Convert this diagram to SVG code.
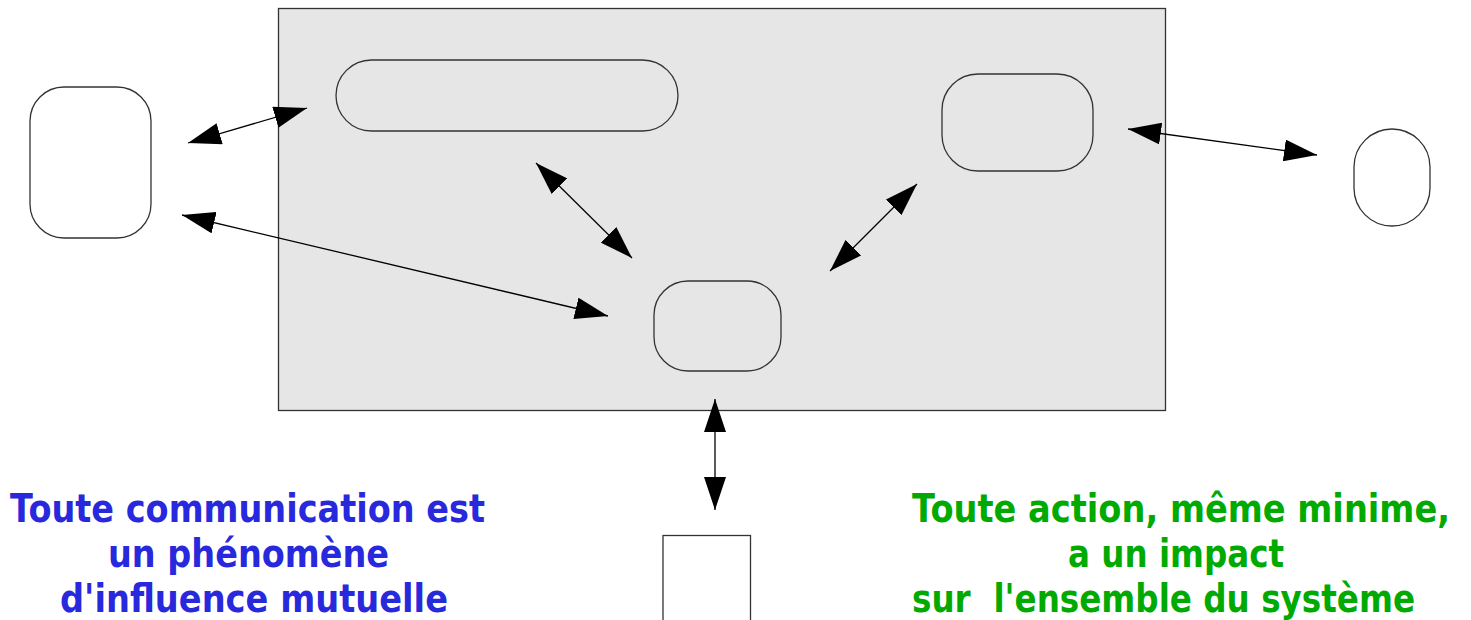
<svg xmlns="http://www.w3.org/2000/svg" width="1471" height="620" viewBox="0 0 1471 620">
<style>
.node{fill:#ffffff;stroke:#333333;stroke-width:1.3}
.inner{fill:#e6e6e6;stroke:#333333;stroke-width:1.3}
.conn{stroke:#000000;stroke-width:1.3;fill:none;marker-start:url(#ah);marker-end:url(#ah)}
.t{font-family:"DejaVu Sans","Liberation Sans",sans-serif;font-weight:bold;font-size:33.5px}
.blue{fill:#2828dc}
.green{fill:#00aa00}
</style>
<defs>
<marker id="ah" markerUnits="userSpaceOnUse" viewBox="0 0 33 22" refX="33" refY="11" markerWidth="33" markerHeight="22" orient="auto-start-reverse">
<path d="M0,0 L33,11 L0,22 Z" fill="#000000"/>
</marker>
</defs>
<g id="system">
<rect x="278.5" y="8.5" width="887" height="402" fill="#e6e6e6" stroke="#333333" stroke-width="1.3"/>
</g>
<g id="node-left"><rect class="node" x="30" y="87" width="121" height="151" rx="34" ry="34"/></g>
<g id="node-top"><rect class="inner" x="336" y="60" width="342" height="71" rx="35.5" ry="35.5"/></g>
<g id="node-topright"><rect class="inner" x="942" y="74" width="151" height="97" rx="36" ry="36"/></g>
<g id="node-center"><rect class="inner" x="654" y="281" width="127" height="90" rx="34" ry="34"/></g>
<g id="node-right"><rect class="node" x="1354" y="129" width="76" height="97" rx="38" ry="38"/></g>
<g id="node-bottom"><rect class="node" x="663" y="535.5" width="87.5" height="100"/></g>
<g id="connectors">
<line class="conn" x1="188" y1="143" x2="307" y2="108"/>
<line class="conn" x1="182" y1="215" x2="608" y2="316"/>
<line class="conn" x1="536" y1="163" x2="632" y2="258"/>
<line class="conn" x1="917" y1="184" x2="830" y2="271"/>
<line class="conn" x1="1128" y1="129" x2="1317" y2="155"/>
<line class="conn" x1="715" y1="399" x2="715" y2="510"/>
</g>
<g id="label-left" class="t blue" transform="scale(1,1.19)">
<text x="10" y="438.7" textLength="475" lengthAdjust="spacingAndGlyphs">Toute communication est</text>
<text x="108" y="476.5" textLength="281" lengthAdjust="spacingAndGlyphs">un phénomène</text>
<text x="60" y="514.3" textLength="388" lengthAdjust="spacingAndGlyphs">d'influence mutuelle</text>
</g>
<g id="label-right" class="t green" transform="scale(1,1.19)">
<text x="912" y="438.7" textLength="538" lengthAdjust="spacingAndGlyphs">Toute action, même minime,</text>
<text x="1068" y="476.5" textLength="216" lengthAdjust="spacingAndGlyphs">a un impact</text>
<text x="912" y="514.3" textLength="503" lengthAdjust="spacingAndGlyphs" xml:space="preserve">sur  l'ensemble du système</text>
</g>
</svg>
